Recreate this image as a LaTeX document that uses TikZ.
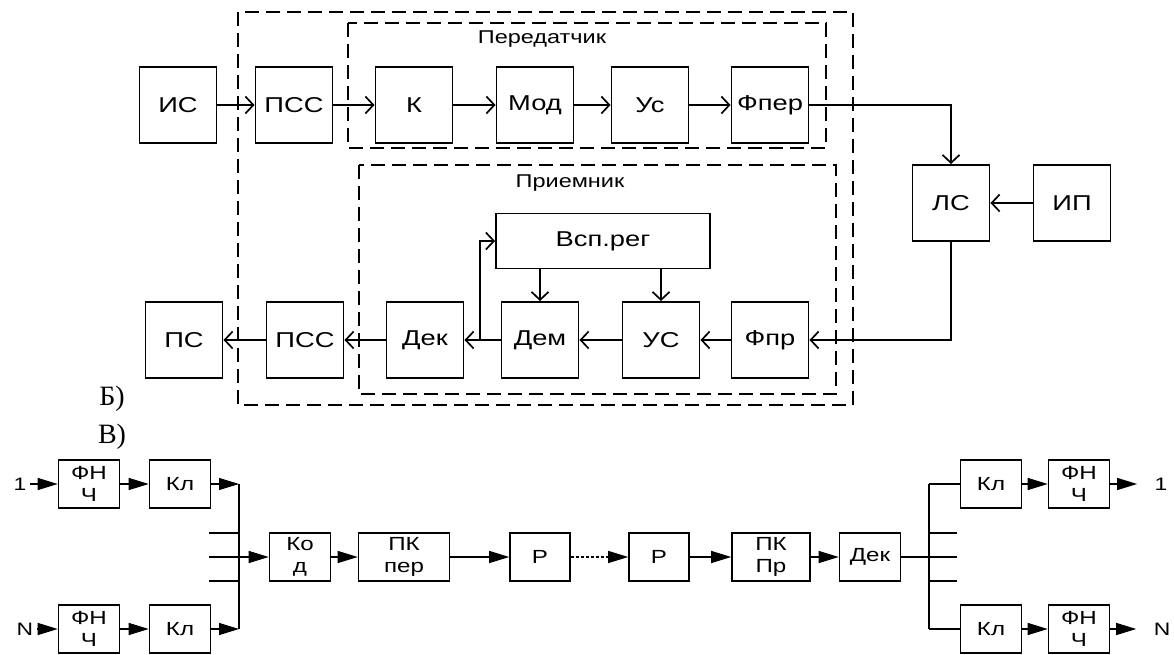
\documentclass[tikz,border=0pt]{standalone}
\usepackage{fontspec}
\setmainfont{Liberation Sans}[FakeStretch=1.27]
\newfontfamily\timesrm{Liberation Serif}
\usetikzlibrary{arrows.meta}

\begin{document}
\begin{tikzpicture}[x=1pt, y=1pt, yscale=-1,
  blk/.style={draw, line width=1.9pt, minimum width=77pt, minimum height=76pt, inner sep=0pt, font=\fontsize{21.5}{25}\selectfont},
  ln/.style={line width=1.7pt},
  arr/.style={ln, -{Straight Barb[length=8pt,width=17pt]}},
  frame/.style={line width=1.8pt, dash pattern=on 14pt off 7pt},
  grptitle/.style={font=\fontsize{18.5}{23}\selectfont},
  sblk/.style={draw, line width=1.6pt, minimum width=61pt, minimum height=48pt, inner sep=0pt, align=center, font=\fontsize{19}{22}\selectfont},
  slbl/.style={font=\fontsize{18}{22}\selectfont},
  sln/.style={line width=1.3pt},
  sarr/.style={sln, -{Triangle[length=20pt,width=12pt]}},
  lett/.style={font=\timesrm\fontsize{28}{28}\selectfont}]
\useasboundingbox (0,0) rectangle (1174,655);
\draw[frame] (238,12) rectangle (853,405);
\draw[frame] (348,23) rectangle (826,148);
\draw[frame] (359,165) rectangle (836,394);
\node[grptitle] (tx) at (542,39) {Передатчик};
\node[grptitle] (rx) at (570,183) {Приемник};
\node[blk] (is) at (178,105) {ИС};
\node[blk] (pss1) at (294,105) {ПСС};
\node[blk] (k) at (414,105) {К};
\node[blk] (mod) at (535,105) {Мод};
\node[blk] (us1) at (650,105) {Ус};
\node[blk] (fper) at (770,105) {Фпер};
\node[blk] (ls) at (951,203) {ЛС};
\node[blk] (ip) at (1072,203) {ИП};
\node[blk] (ps) at (184,340) {ПС};
\node[blk] (pss2) at (305,340) {ПСС};
\node[blk] (dek) at (425,340) {Дек};
\node[blk] (dem) at (540,340) {Дем};
\node[blk] (us2) at (661,340) {УС};
\node[blk] (fpr) at (770,340) {Фпр};
\node[blk, minimum width=214pt, minimum height=55pt] (vsp) at (603,241) {Всп.рег};
\coordinate (fb) at (480,340);
\draw[arr] (is) -- (pss1);
\draw[arr] (pss1) -- (k);
\draw[arr] (k) -- (mod);
\draw[arr] (mod) -- (us1);
\draw[arr] (us1) -- (fper);
\draw[arr] (fper) -| (ls);
\draw[arr] (ip) -- (ls);
\draw[arr] (ls) |- (fpr);
\draw[arr] (fpr) -- (us2);
\draw[arr] (us2) -- (dem);
\draw[arr] (dem) -- (dek);
\draw[arr] (dek) -- (pss2);
\draw[arr] (pss2) -- (ps);
\draw[arr] (dem.north |- vsp.south) -- (dem.north);
\draw[arr] (us2.north |- vsp.south) -- (us2.north);
\draw[arr] (fb) |- (vsp.west);
\node[lett] (lb) at (112,399) {Б)};
\node[lett] (lv) at (112,437) {В)};
\node[slbl] (in1) at (20,484) {1};
\node[sblk] (fnch1) at (89,484) {ФН\\Ч};
\node[sblk] (kl1) at (180,484) {Кл};
\node[slbl] (inN) at (25,629) {N};
\node[sblk] (fnchN) at (89,629) {ФН\\Ч};
\node[sblk] (klN) at (180,629) {Кл};
\coordinate (busT) at (239,484);
\coordinate (busM) at (239,557);
\coordinate (busB) at (239,629);
\draw[sln] (busT) -- (busB);
\foreach \y [count=\i] in {533,557,581} {
  \coordinate (sl\i) at (209,\y);
  \draw[sln] (sl\i) -- (sl\i -| busT);
}
\draw[sarr] (in1) -- (fnch1);
\draw[sarr] (fnch1) -- (kl1);
\draw[sarr] (kl1) -- (busT);
\draw[sarr] (inN) -- (fnchN);
\draw[sarr] (fnchN) -- (klN);
\draw[sarr] (klN) -- (busB);
\node[sblk] (kod) at (300,557) {Ко\\д};
\node[sblk, minimum width=91pt] (pkper) at (404,557) {ПК\\пер};
\node[sblk, minimum width=60pt] (r1) at (540,557) {Р};
\node[sblk, minimum width=60pt] (r2) at (659,557) {Р};
\node[sblk, minimum width=78pt] (pkpr) at (771,557) {ПК\\Пр};
\node[sblk] (dek2) at (870,557) {Дек};
\draw[sarr] (busM) -- (kod);
\draw[sarr] (kod) -- (pkper);
\draw[sarr] (pkper) -- (r1);
\draw[sarr, densely dashed] (r1) -- (r2);
\draw[sarr] (r2) -- (pkpr);
\draw[sarr] (pkpr) -- (dek2);
\coordinate (busRT) at (929,484);
\coordinate (busRM) at (929,557);
\coordinate (busRB) at (929,629);
\draw[sln] (busRT) -- (busRB);
\foreach \y [count=\i] in {533,557,581} {
  \coordinate (sr\i) at (957,\y);
  \draw[sln] (sr\i) -- (sr\i -| busRT);
}
\draw[sln] (dek2) -- (busRM);
\node[sblk] (klR1) at (991,484) {Кл};
\node[sblk] (fR1) at (1079,484) {ФН\\Ч};
\node[slbl] (out1) at (1161,484) {1};
\node[sblk] (klR2) at (991,629) {Кл};
\node[sblk] (fR2) at (1079,629) {ФН\\Ч};
\node[slbl] (outN) at (1162,629) {N};
\draw[sln] (busRT) -- (klR1);
\draw[sln] (busRB) -- (klR2);
\draw[sarr] (klR1) -- (fR1);
\draw[sarr] (klR2) -- (fR2);
\draw[sarr, shorten >=14pt] (fR1) -- (out1);
\draw[sarr, shorten >=14pt] (fR2) -- (outN);
\end{tikzpicture}
\end{document}
